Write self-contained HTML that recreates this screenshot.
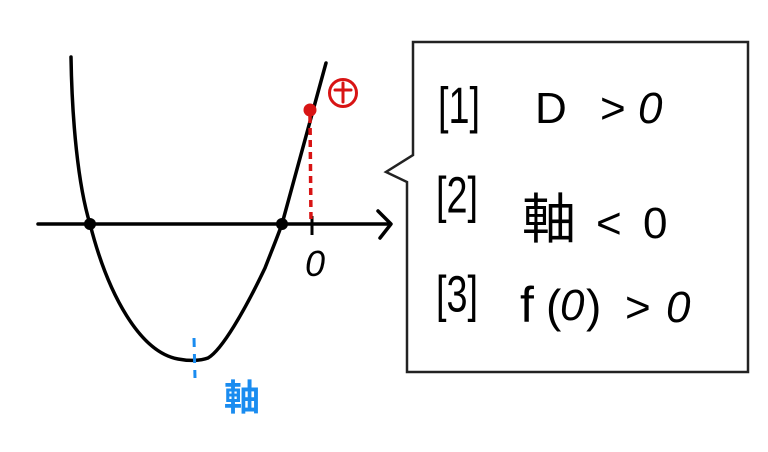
<!DOCTYPE html>
<html><head><meta charset="utf-8"><style>
html,body{margin:0;padding:0;background:#fff;width:768px;height:452px;overflow:hidden}
svg{display:block}
text{font-family:"Liberation Sans","Noto Sans CJK JP",sans-serif}
</style></head><body>
<svg width="768" height="452" viewBox="0 0 768 452" xmlns="http://www.w3.org/2000/svg">
<line x1="38" y1="224" x2="390" y2="224" stroke="#000" stroke-width="3.5" stroke-linecap="round"/>
<polyline points="378,211 391,224 380,238" fill="none" stroke="#000" stroke-width="3.5" stroke-linecap="round" stroke-linejoin="round"/>
<line x1="312" y1="216" x2="312" y2="235" stroke="#000" stroke-width="3"/>
<path d="M71,57 C72,120 78,185 90,224 C108,295 140,352 178,359 C188,361 200,361 208,358 C222,350 245,310 265,268 C272,250 277,238 282,224 L326,63" fill="none" stroke="#000" stroke-width="3.5" stroke-linecap="round" stroke-linejoin="round"/>
<circle cx="90" cy="224" r="6" fill="#000"/>
<circle cx="282" cy="224" r="6" fill="#000"/>
<line x1="310" y1="116" x2="311" y2="222" stroke="#d81414" stroke-width="3.5" stroke-dasharray="7,5"/>
<circle cx="310" cy="110" r="6.5" fill="#d81414"/>
<circle cx="343" cy="93" r="13.5" fill="none" stroke="#d81414" stroke-width="3"/>
<line x1="335" y1="90" x2="351" y2="90" stroke="#d81414" stroke-width="3" stroke-linecap="round"/>
<line x1="343" y1="83" x2="343" y2="102" stroke="#d81414" stroke-width="3" stroke-linecap="round"/>
<text x="305" y="276" font-size="36" font-style="italic" fill="#000">0</text>
<line x1="194" y1="338" x2="195" y2="378" stroke="#1a8cf0" stroke-width="3" stroke-dasharray="9,7"/>
<text x="224" y="410" font-size="36" font-weight="bold" fill="#1a8cf0">軸</text>
<path d="M413,42 L748,42 L748,372 L407,372 L407,182 L386,172 L413,155 Z" fill="#fff" stroke="#222" stroke-width="2.5"/>
<g fill="#000" font-size="44">
<text x="438" y="107" textLength="42" lengthAdjust="spacingAndGlyphs" transform="scale(1,1.15)">[1]</text>
<text x="535" y="123">D</text>
<text x="600" y="123">&gt;</text>
<text x="638" y="123" font-style="italic">0</text>
<text x="436" y="185" textLength="42" lengthAdjust="spacingAndGlyphs" transform="scale(1,1.15)">[2]</text>
<text x="522" y="238" font-size="54">軸</text>
<text x="596" y="238">&lt;</text>
<text x="643" y="238">0</text>
<text x="436" y="271" textLength="42" lengthAdjust="spacingAndGlyphs" transform="scale(1,1.15)">[3]</text>
<text x="520" y="322" font-size="50">f</text>
<text x="546" y="322" font-size="46">(</text>
<text x="560" y="320" font-style="italic">0</text>
<text x="586" y="322" font-size="46">)</text>
<text x="625" y="322">&gt;</text>
<text x="666" y="322" font-style="italic">0</text>
</g>
</svg>
</body></html>
